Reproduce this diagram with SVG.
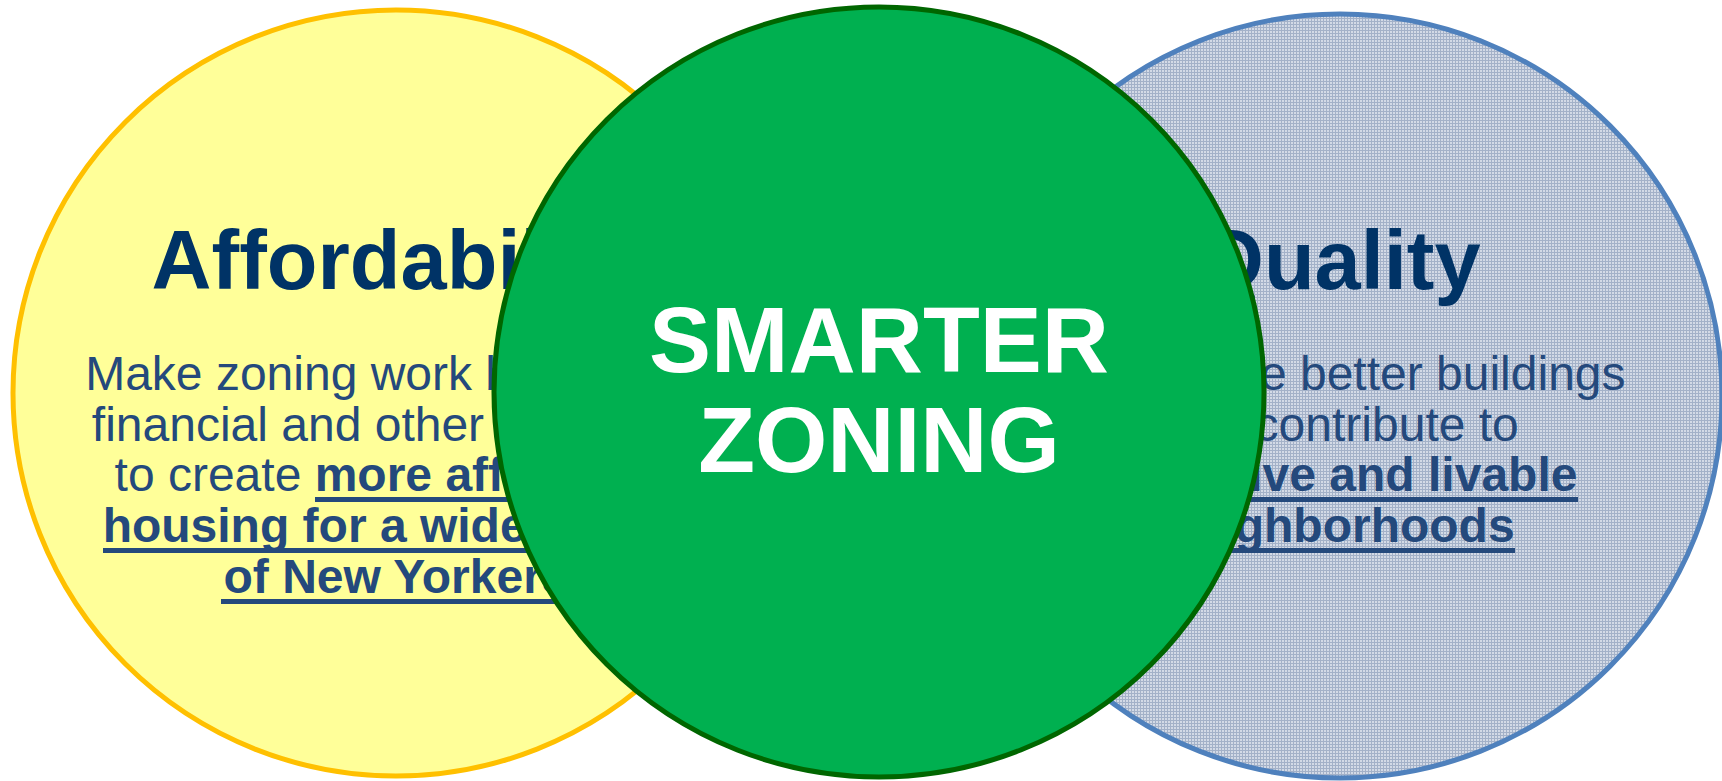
<svg xmlns="http://www.w3.org/2000/svg" width="1722" height="781" viewBox="0 0 1722 781">
<defs>
<pattern id="dots" width="3" height="3" patternUnits="userSpaceOnUse">
<rect width="3" height="3" fill="#D3DAE6"/>
<rect width="3" height="1" fill="#A3B1C8"/>
<rect width="1" height="3" fill="#A3B1C8"/>
</pattern>
<style>
.title{font-family:"Liberation Sans",Arial,sans-serif;font-weight:bold;font-size:83px;fill:#003366;text-anchor:middle}
.body{font-family:"Liberation Sans",Arial,sans-serif;font-size:48px;fill:#24497C;text-anchor:middle}
.b{font-weight:bold}
.ul{fill:#24497C}
.center{font-family:"Liberation Sans",Arial,sans-serif;font-weight:bold;font-size:93px;fill:#FFFFFF;text-anchor:middle}
</style>
</defs>
<rect width="1722" height="781" fill="#FFFFFF"/>
<g id="affordability">
<circle cx="396" cy="393" r="383" fill="#FFFF99" stroke="#FFC000" stroke-width="5"/>
<text class="title" x="396" y="289">Affordability</text>
<text class="body" x="396" y="390">Make zoning work better with</text>
<text class="body" x="396" y="441">financial and other programs</text>
<text class="body" x="396" y="491">to create <tspan class="b">more affordable</tspan></text>
<text class="body b" x="396" y="542">housing for a wider range</text>
<text class="body b" x="396" y="593">of New Yorkers</text>
<rect class="ul" x="315" y="497" width="363" height="5"/>
<rect class="ul" x="103" y="548" width="587" height="5"/>
<rect class="ul" x="221" y="599" width="350" height="5"/>
</g>
<g id="quality">
<circle cx="1340" cy="396" r="382" fill="url(#dots)" stroke="#4F81BD" stroke-width="5"/>
<text class="title" x="1340" y="289">Quality</text>
<text class="body" x="1340" y="390">Encourage better buildings</text>
<text class="body" x="1340" y="441">that contribute to</text>
<text class="body b" x="1340" y="491">attractive and livable</text>
<text class="body b" x="1340" y="542">neighborhoods</text>
<rect class="ul" x="1103" y="497" width="475" height="5"/>
<rect class="ul" x="1165" y="548" width="350" height="5"/>
</g>
<g id="smarter-zoning">
<circle cx="879" cy="392" r="385" fill="#00B050" stroke="#006600" stroke-width="5"/>
<text class="center" x="879" y="372">SMARTER</text>
<text class="center" x="879" y="472">ZONING</text>
</g>
<g id="connectors"/>
</svg>
